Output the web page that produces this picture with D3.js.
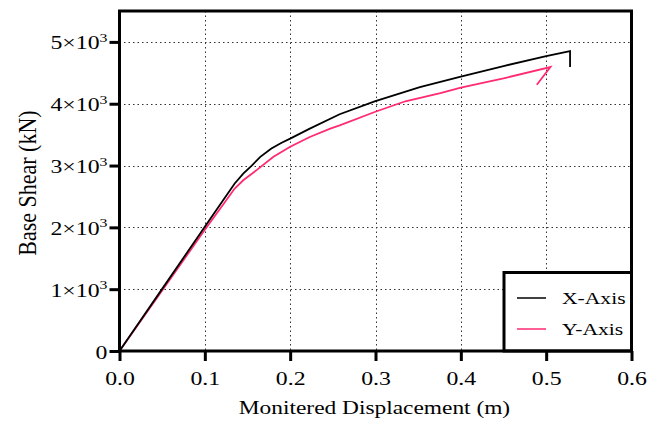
<!DOCTYPE html>
<html>
<head>
<meta charset="utf-8">
<script src="https://cdn.jsdelivr.net/npm/d3@7"></script>
<style>
  html, body { margin: 0; padding: 0; background: #fff; }
  svg { display: block; }
  text { font-family: "Liberation Serif", "Times New Roman", serif; fill: #000; }
</style>
</head>
<body>
<svg id="chart" width="662" height="425"></svg>
<script>
// Pushover curves: base shear (kN) against monitored roof displacement (m)
const xAxisDisp  = [0, 0.05, 0.10, 0.120, 0.135, 0.145, 0.155, 0.165, 0.178, 0.190, 0.200, 0.223, 0.258, 0.299, 0.352, 0.400, 0.450, 0.500, 0.528, 0.528];
const xAxisShear = [0, 1005, 2010, 2410, 2709, 2870, 3000, 3140, 3275, 3370, 3436, 3598, 3830, 4039, 4270, 4440, 4610, 4770, 4852, 4593];

const yAxisDisp  = [0, 0.05, 0.10, 0.120, 0.135, 0.145, 0.161, 0.180, 0.200, 0.223, 0.247, 0.258, 0.299, 0.335, 0.376, 0.400, 0.450, 0.505, 0.489];
const yAxisShear = [0, 980, 1960, 2340, 2628, 2762, 2930, 3139, 3305, 3462, 3598, 3651, 3866, 4040, 4173, 4260, 4410, 4593, 4308];

const seriesNames  = ["X-Axis", "Y-Axis"];
const seriesColors = ["#000000", "#ff2a70"];

const xTicks = [0, 0.1, 0.2, 0.3, 0.4, 0.5, 0.6];
const xTickLabels = ["0.0", "0.1", "0.2", "0.3", "0.4", "0.5", "0.6"];
const yTicks = [0, 1000, 2000, 3000, 4000, 5000];
const yTickMantissa = ["0", "1", "2", "3", "4", "5"];

const xTitle = "Monitered Displacement (m)";
const yTitle = "Base Shear (kN)";

// ---- layout ----
const svg = d3.select("#chart");
const plot = { left: 119.5, right: 631.5, top: 11, bottom: 351 };
const x = d3.scaleLinear().domain([0, 0.6]).range([plot.left, plot.right]);
const y = d3.scaleLinear().domain([0, 5500]).range([plot.bottom, plot.top]);
const sx = 1.22; // horizontal widening of the serif glyphs

// dotted grid
const grid = svg.append("g").attr("stroke", "#333").attr("stroke-width", 1)
  .attr("stroke-dasharray", "1.5,3");
grid.selectAll("line.v").data(xTicks.slice(1, -1)).join("line")
  .attr("x1", d => Math.round(x(d)) + 0.5).attr("x2", d => Math.round(x(d)) + 0.5)
  .attr("y1", plot.top).attr("y2", plot.bottom);
grid.selectAll("line.h").data(yTicks.slice(1)).join("line")
  .attr("y1", d => Math.round(y(d)) + 0.5).attr("y2", d => Math.round(y(d)) + 0.5)
  .attr("x1", plot.left).attr("x2", plot.right);

// curves
const line = d3.line().x(d => x(d[0])).y(d => y(d[1]));
const series = [
  d3.zip(xAxisDisp, xAxisShear),
  d3.zip(yAxisDisp, yAxisShear)
];
// draw Y-Axis first so the black curve sits on top near the origin
[1, 0].forEach(i => {
  svg.append("path").datum(series[i])
    .attr("d", line)
    .attr("fill", "none")
    .attr("stroke", seriesColors[i])
    .attr("stroke-width", 1.8)
    .attr("stroke-linejoin", "miter");
});

// legend
const lg = svg.append("g");
lg.append("rect").attr("x", 504).attr("y", 272.5).attr("width", 127.5).attr("height", 78.5)
  .attr("fill", "#fff").attr("stroke", "#000").attr("stroke-width", 3);
seriesNames.forEach((name, i) => {
  const yy = 298 + i * 31;
  lg.append("line").attr("x1", 517).attr("x2", 546).attr("y1", yy).attr("y2", yy)
    .attr("stroke", seriesColors[i]).attr("stroke-width", 1.5);
  lg.append("text").attr("transform", `translate(562,${yy + 6}) scale(1.27,1)`)
    .attr("font-size", 17).text(name);
});

// frame
svg.append("rect").attr("x", plot.left).attr("y", plot.top)
  .attr("width", plot.right - plot.left).attr("height", plot.bottom - plot.top)
  .attr("fill", "none").attr("stroke", "#000").attr("stroke-width", 3);

// x axis ticks and labels
const xAxis = svg.append("g").attr("transform", `translate(0,${plot.bottom})`)
  .call(d3.axisBottom(x).tickValues(xTicks).tickSize(10).tickSizeOuter(0)
    .tickFormat((d, i) => xTickLabels[i]));
xAxis.select(".domain").remove();
xAxis.selectAll(".tick line").attr("stroke", "#000").attr("stroke-width", 3);
xAxis.selectAll(".tick text").remove();
xAxis.selectAll(".tick").append("text")
  .attr("transform", `translate(0,34) scale(${sx},1)`)
  .attr("text-anchor", "middle").attr("font-size", 19.5)
  .text((d, i) => xTickLabels[i]);

// y axis ticks and labels (m×10³)
const yAxis = svg.append("g").attr("transform", `translate(${plot.left},0)`)
  .call(d3.axisLeft(y).tickValues(yTicks).tickSize(10).tickSizeOuter(0).tickFormat(""));
yAxis.select(".domain").remove();
yAxis.selectAll(".tick line").attr("stroke", "#000").attr("stroke-width", 3);
yAxis.selectAll(".tick text").remove();
yAxis.selectAll(".tick").each(function (d, i) {
  const t = d3.select(this).append("text")
    .attr("transform", `translate(-12,7) scale(${sx},1)`)
    .attr("text-anchor", "end").attr("font-size", 19.5);
  if (d === 0) {
    t.text(yTickMantissa[i]);
  } else {
    t.append("tspan").text(yTickMantissa[i] + "\u00d710");
    t.append("tspan").attr("font-size", 13).attr("dy", -7.5).text("3");
  }
});

// axis titles
svg.append("text")
  .attr("transform", `translate(${(plot.left + plot.right) / 2 - 1},414) scale(1.2,1)`)
  .attr("text-anchor", "middle").attr("font-size", 19.5).text(xTitle);
svg.append("text")
  .attr("transform", "translate(36,183) rotate(-90) scale(1.0,1.15)")
  .attr("text-anchor", "middle").attr("font-size", 22).text(yTitle);
</script>
</body>
</html>
